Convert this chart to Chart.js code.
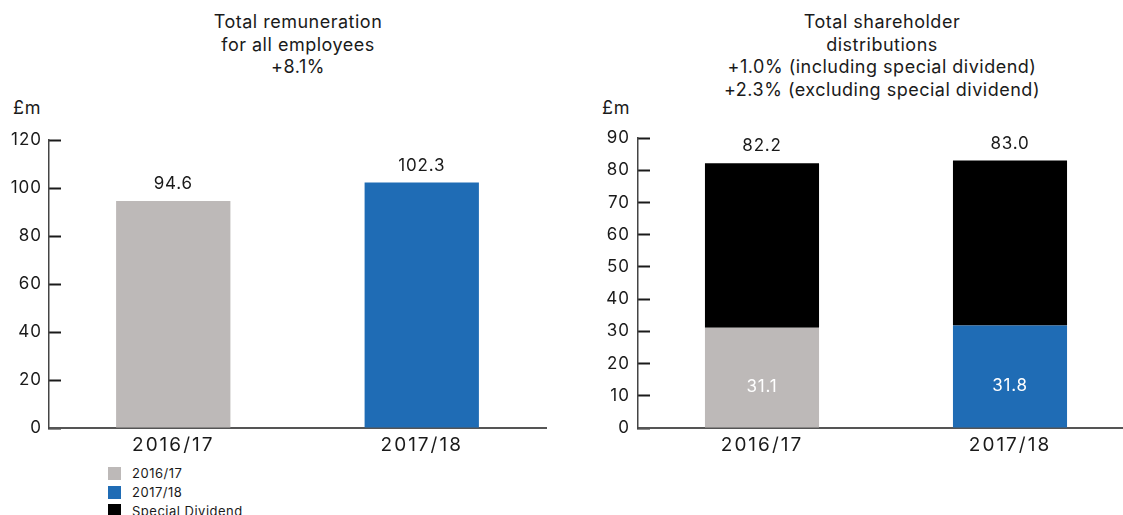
<!DOCTYPE html>
<html>
<head>
<meta charset="utf-8">
<script src="https://cdn.jsdelivr.net/npm/chart.js@4.4.1/dist/chart.umd.min.js"></script>
<style>
  html, body { margin: 0; padding: 0; background: #fff; overflow: hidden; width: 1123px; height: 515px; }
  body { position: relative; font-family: Inter, "Open Sans", sans-serif; color: #1a1a1a; }
  .title { position: absolute; top: 11px; width: 420px; text-align: center; font-size: 18px; letter-spacing: 0.5px; line-height: 22.7px; }
  .unit { position: absolute; top: 97px; font-size: 18px; letter-spacing: 0.8px; }
  .box { position: absolute; top: 0; }
  .legend { position: absolute; left: 108px; top: 464px; font-size: 13px; letter-spacing: 0.5px; }
  .legend div { height: 18.7px; display: flex; align-items: center; }
  .legend span { display: inline-block; width: 13px; height: 13px; margin-right: 11px; }
</style>
</head>
<body>
<div class="title" style="left:88px">Total remuneration<br>for all employees<br>+8.1%</div>
<div class="title" style="left:672px">Total shareholder<br>distributions<br>+1.0% (including special dividend)<br>+2.3% (excluding special dividend)</div>
<div class="unit" style="left:13px">£m</div>
<div class="unit" style="left:602px">£m</div>

<div class="box" style="left:0px"><canvas id="remChart" width="560" height="462"></canvas></div>
<div class="box" style="left:580px"><canvas id="distChart" width="560" height="462"></canvas></div>

<div class="legend">
  <div><span style="background:#bdb9b8"></span>2016/17</div>
  <div><span style="background:#1f6cb5"></span>2017/18</div>
  <div><span style="background:#000000"></span>Special Dividend</div>
</div>

<script>
// Financial years shown on both charts
const years = ['2016/17', '2017/18'];
const yearColours = ['#bdb9b8', '#1f6cb5'];
const specialColour = '#000000';

// Total remuneration for all employees, £m
const remuneration = [94.6, 102.3];
const remTicks = [0, 20, 40, 60, 80, 100, 120];

// Total shareholder distributions, £m
const distributionTotals = [82.2, 83.0];
const ordinaryDistributions = [31.1, 31.8];
const distTicks = [0, 10, 20, 30, 40, 50, 60, 70, 80, 90];

const specialDividend = distributionTotals.map((t, i) => +(t - ordinaryDistributions[i]).toFixed(1));

const FONT = 'Inter, "Open Sans", sans-serif';
Chart.defaults.font.family = FONT;
Chart.defaults.font.size = 17;
Chart.defaults.color = '#1a1a1a';

// Wider letter spacing for the axis labels
const labelSpacing = {
  id: 'labelSpacing',
  beforeDraw(chart, args, opts) {
    Object.entries(opts.axes || {}).forEach(([id, sp]) => {
      const s = chart.scales[id];
      if (!s || s._spaced) return;
      const orig = s.drawLabels;
      s.drawLabels = function (area) {
        const c = this.ctx;
        c.save();
        c.letterSpacing = sp;
        orig.call(this, area);
        c.restore();
      };
      s._spaced = true;
    });
  }
};

// Value labels: totals above the stack, inner values centred in their segment
const valueLabels = {
  id: 'valueLabels',
  afterDatasetsDraw(chart, args, opts) {
    const { ctx } = chart;
    ctx.save();
    ctx.font = '17px ' + FONT;
    ctx.letterSpacing = '0.8px';
    ctx.textAlign = 'center';
    ctx.textBaseline = 'middle';
    (opts.items || []).forEach(item => {
      const meta = chart.getDatasetMeta(item.dataset);
      meta.data.forEach((bar, i) => {
        const text = item.values[i].toFixed(1);
        if (item.inside) {
          ctx.fillStyle = '#ffffff';
          ctx.fillText(text, bar.x, (bar.y + bar.base) / 2 + 9);
        } else {
          const top = chart.getDatasetMeta(item.topDataset ?? item.dataset).data[i].y;
          ctx.fillStyle = '#1a1a1a';
          ctx.fillText(text, bar.x, top - 17);
        }
      });
    });
    ctx.restore();
  }
};

// endCap: short upright tick closing the category axis on the right
function baseOptions(axisWidth, tickPad, maxVal, padTop, padRight, stacked, tickList, endCap) {
  return {
    responsive: false,
    animation: false,
    layout: { padding: { top: padTop, left: 0, right: padRight, bottom: 0 } },
    plugins: {
      legend: { display: false },
      tooltip: { enabled: false },
      labelSpacing: { axes: { x: '2px', y: '1px' } }
    },
    scales: {
      x: {
        stacked,
        offset: true,
        grid: endCap
          ? {
              display: true,
              drawOnChartArea: false,
              offset: true,
              tickLength: -7,
              tickWidth: 1.5,
              tickColor: c => (c.index === years.length ? '#555555' : 'rgba(0,0,0,0)')
            }
          : { display: false, tickLength: 8 },
        border: { display: true, color: '#555', width: 2 },
        ticks: { padding: endCap ? 13 : -2, color: '#1a1a1a', font: { size: 19 } },
        afterFit(scale) { scale.height = 462 - 428; }
      },
      y: {
        stacked,
        min: 0,
        max: maxVal,
        // tick marks point inward, into the plot
        grid: {
          display: true,
          drawOnChartArea: false,
          drawTicks: true,
          tickLength: -12,
          tickWidth: 2,
          tickColor: '#1a1a1a'
        },
        border: { display: true, color: '#444', width: 1.5 },
        ticks: { padding: tickPad, color: '#1a1a1a', font: { size: 17 } },
        afterBuildTicks(scale) { scale.ticks = tickList.map(v => ({ value: v })); },
        afterFit(scale) { scale.width = axisWidth; }
      }
    }
  };
}

// Left: remuneration
const remOpts = baseOptions(49, 19, 120, 140, 14, false, remTicks, true);
remOpts.plugins.valueLabels = { items: [{ dataset: 0, values: remuneration }] };
new Chart(document.getElementById('remChart'), {
  type: 'bar',
  data: {
    labels: years,
    datasets: [{
      label: 'Total remuneration',
      data: remuneration,
      backgroundColor: yearColours,
      barPercentage: 0.46,
      categoryPercentage: 1
    }]
  },
  options: remOpts,
  plugins: [labelSpacing, valueLabels]
});

// Right: shareholder distributions, stacked with the special dividend on top
const distOpts = baseOptions(58, 20, 90, 138, 6, true, distTicks, false);
distOpts.plugins.valueLabels = {
  items: [
    { dataset: 0, values: ordinaryDistributions, inside: true },
    { dataset: 0, topDataset: 1, values: distributionTotals }
  ]
};
new Chart(document.getElementById('distChart'), {
  type: 'bar',
  data: {
    labels: years,
    datasets: [
      {
        label: 'Ordinary distributions',
        data: ordinaryDistributions,
        backgroundColor: yearColours,
        barPercentage: 0.46,
        categoryPercentage: 1
      },
      {
        label: 'Special Dividend',
        data: specialDividend,
        backgroundColor: specialColour,
        barPercentage: 0.46,
        categoryPercentage: 1
      }
    ]
  },
  options: distOpts,
  plugins: [labelSpacing, valueLabels]
});
</script>
</body>
</html>
